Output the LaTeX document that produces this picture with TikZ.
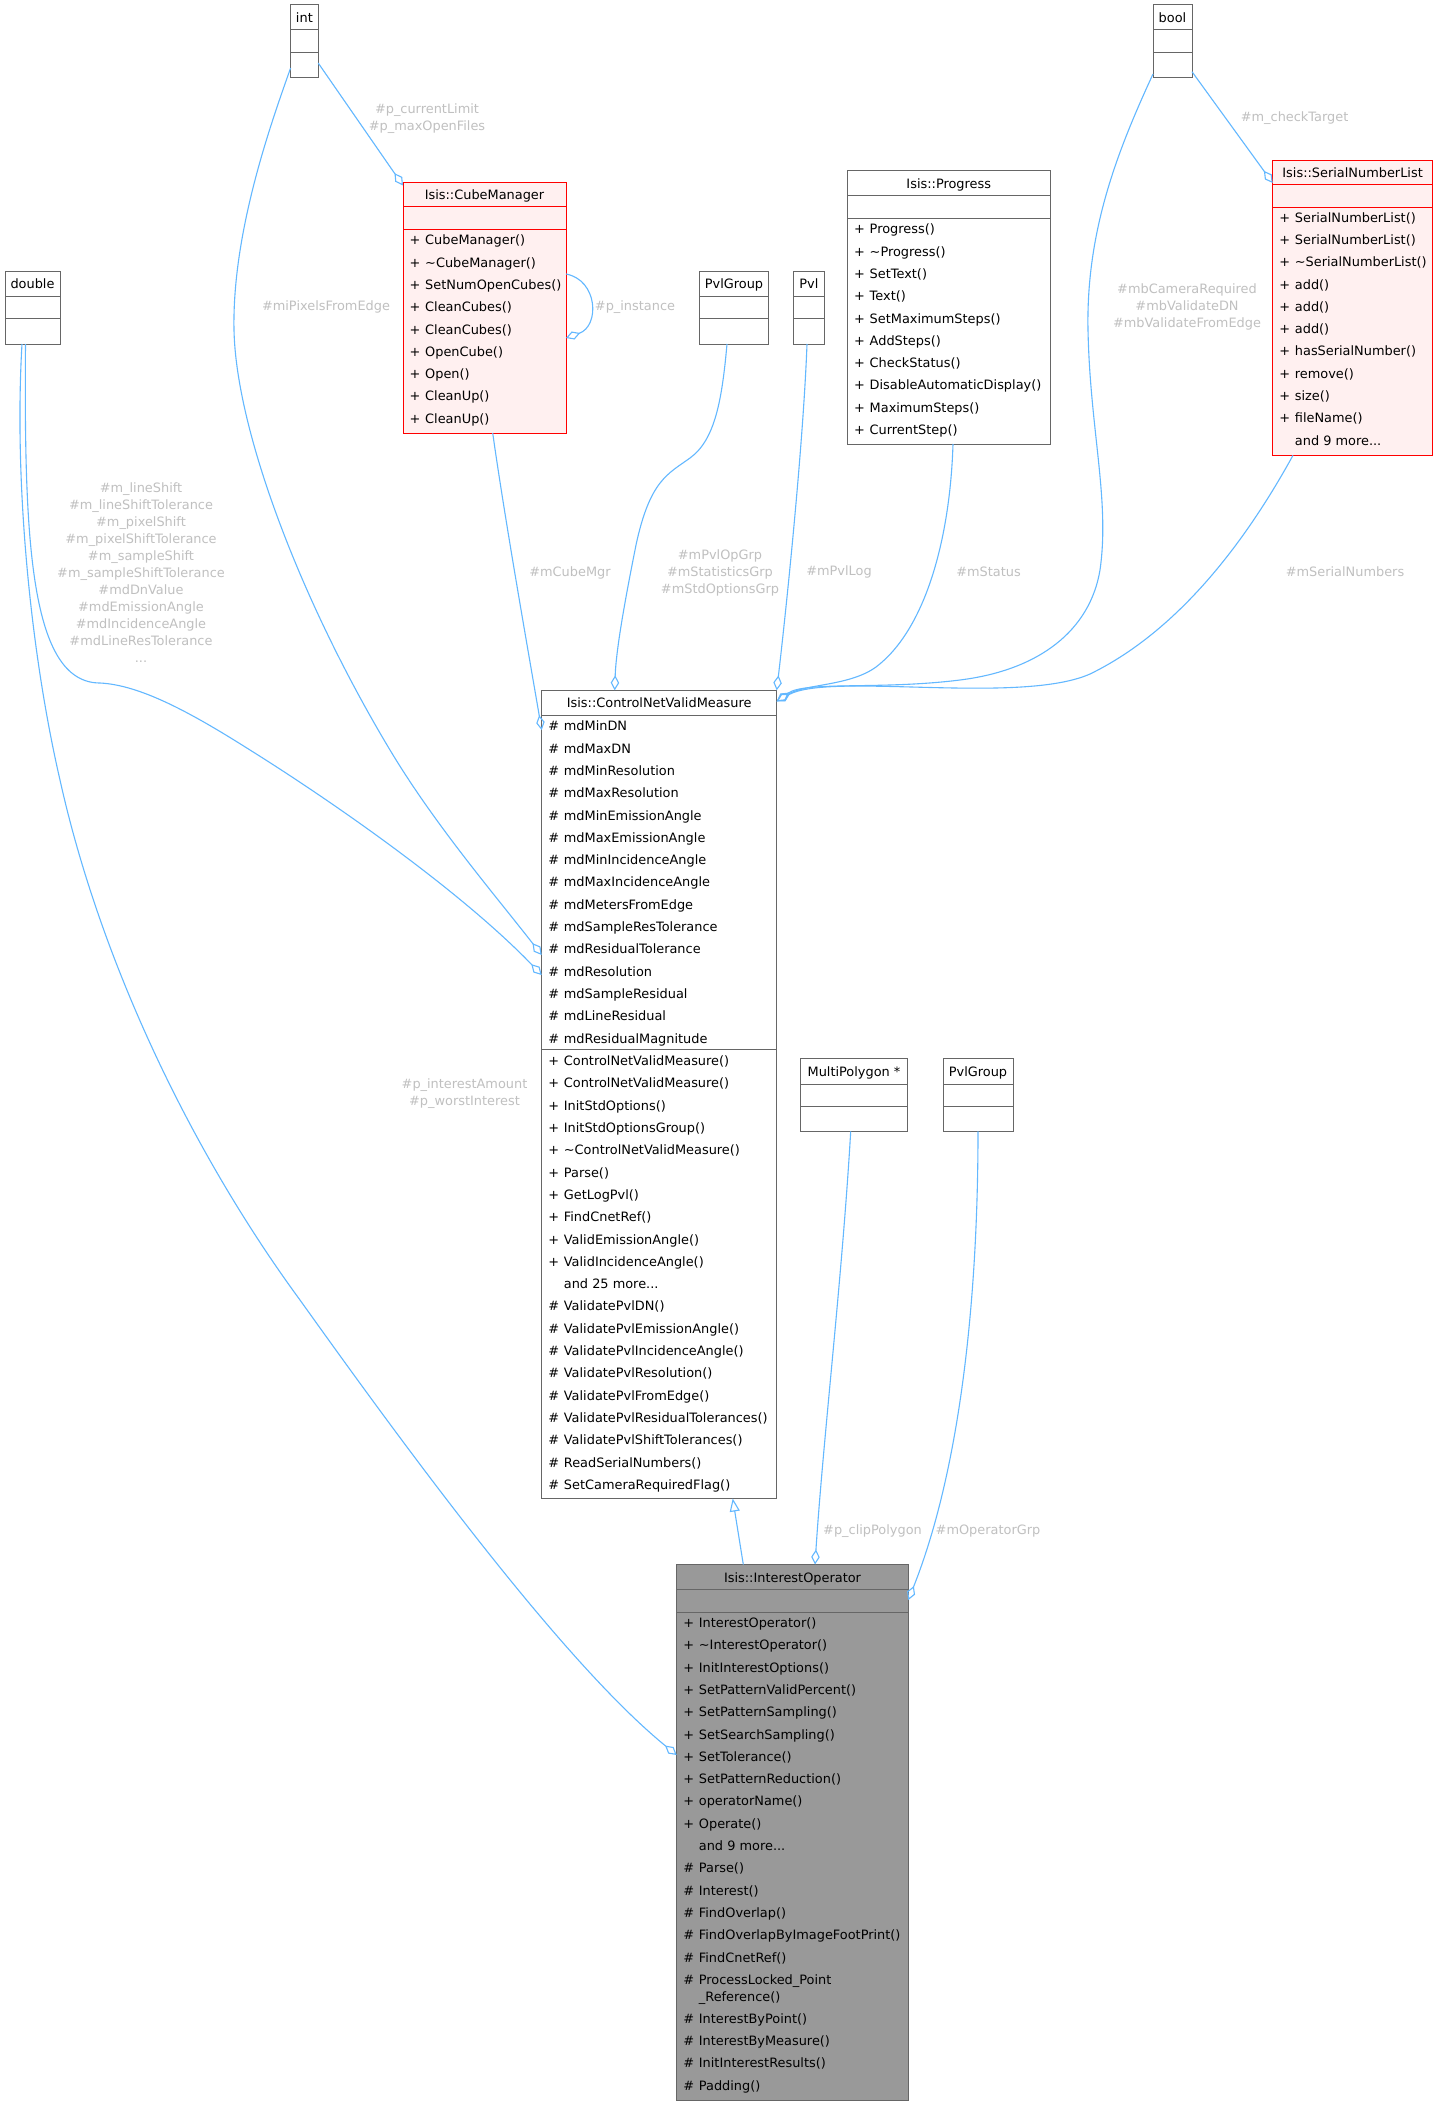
\documentclass[tikz,border=0pt]{standalone}
\usepackage{fontspec}
\setmainfont{DejaVu Sans}
\usetikzlibrary{calc,arrows.meta}
\definecolor{edgeblue}{HTML}{63B8FF}
\definecolor{boxgrey}{HTML}{666666}
\definecolor{lblgrey}{HTML}{C0C0C0}
\definecolor{redfill}{HTML}{FFF0F0}
\definecolor{redline}{HTML}{FF0000}
\definecolor{iofill}{HTML}{999999}
\newcommand\fs{\fontsize{12.9}{17}\selectfont}
\newcommand\threedots{...}
\newcommand\mems[4]{%
  \foreach \sy/\tx [count=\i from 0] in {#4}{%
    \pgfmathsetmacro\yy{#2+\i*22.3}%
    \node[mem] (#3s\i) at ($(#1.north west)+(6.5,\yy)$) {\sy};
    \node[mem] (#3m\i) at ($(#1.north west)+(22,\yy)$) {\tx};
  }}
\newcommand\hdiv[3]{\draw[line width=1pt,#3] ($(#1.north west)+(0,#2)$) -- ($(#1.north east)+(0,#2)$);}
\newcommand\ctitle[3]{\node[ttl] (#1t) at ($(#1.north)+(0,#2)$) {#3};}
\tikzset{
  cls/.style={draw=boxgrey, fill=white, line width=1pt, inner sep=0pt, outer sep=0pt, anchor=north west},
  redcls/.style={cls, draw=redline, fill=redfill},
  iocls/.style={cls, fill=iofill},
  mem/.style={anchor=west, inner sep=0pt, font=\fs, text height=11pt, text depth=1.4pt},
  ttl/.style={anchor=center, inner sep=0pt, font=\fs, text height=11pt, text depth=1.4pt},
  lbl/.style={inner sep=0pt, font=\fs, text=lblgrey, align=center},
  agg/.style={draw=edgeblue, line width=1.1pt, -{Diamond[open,length=15pt,width=8.5pt]}},
  inh/.style={draw=edgeblue, line width=1.1pt, -{Triangle[open,length=13pt,width=10pt]}}
}
\begin{document}
\begin{tikzpicture}[x=1pt,y=-1pt]
\fill[white] (0,0) rectangle (1438,2106);
\useasboundingbox (0,0) rectangle (1438,2106);

% ---------- simple type boxes ----------
\node[cls, minimum width=27.6pt, minimum height=73pt] (int) at (290.6,5) {};
\hdiv{int}{25}{boxgrey}\hdiv{int}{47.3}{boxgrey}\ctitle{int}{12.5}{int}
\node[cls, minimum width=39pt, minimum height=73pt] (bool) at (1153,5) {};
\hdiv{bool}{25}{boxgrey}\hdiv{bool}{47.3}{boxgrey}\ctitle{bool}{12.5}{bool}
\node[cls, minimum width=55pt, minimum height=73pt] (double) at (5,271) {};
\hdiv{double}{25}{boxgrey}\hdiv{double}{47.3}{boxgrey}\ctitle{double}{12.5}{double}
\node[cls, minimum width=69pt, minimum height=73pt] (pvlga) at (699.5,271) {};
\hdiv{pvlga}{25}{boxgrey}\hdiv{pvlga}{47.3}{boxgrey}\ctitle{pvlga}{12.5}{PvlGroup}
\node[cls, minimum width=31.1pt, minimum height=73pt] (pvl) at (793.3,271) {};
\hdiv{pvl}{25}{boxgrey}\hdiv{pvl}{47.3}{boxgrey}\ctitle{pvl}{12.5}{Pvl}
\node[cls, minimum width=106.6pt, minimum height=72.7pt] (mp) at (800.7,1058.7) {};
\hdiv{mp}{25.3}{boxgrey}\hdiv{mp}{47.3}{boxgrey}\ctitle{mp}{12.6}{MultiPolygon *}
\node[cls, minimum width=70pt, minimum height=72.7pt] (pvlgb) at (943,1058.7) {};
\hdiv{pvlgb}{25.3}{boxgrey}\hdiv{pvlgb}{47.3}{boxgrey}\ctitle{pvlgb}{12.6}{PvlGroup}

% ---------- Isis::CubeManager ----------
\node[redcls, minimum width=163pt, minimum height=251pt] (cm) at (403,182) {};
\hdiv{cm}{24.7}{redline}\hdiv{cm}{47}{redline}\ctitle{cm}{12.8}{Isis::CubeManager}
\mems{cm}{58}{cm}{+/CubeManager(), +/\textasciitilde CubeManager(), +/SetNumOpenCubes(), +/CleanCubes(), +/CleanCubes(), +/OpenCube(), +/Open(), +/CleanUp(), +/CleanUp()}

% ---------- Isis::Progress ----------
\node[cls, minimum width=202.5pt, minimum height=273.3pt] (prog) at (847.5,170.7) {};
\hdiv{prog}{24.8}{boxgrey}\hdiv{prog}{47.3}{boxgrey}\ctitle{prog}{13.4}{Isis::Progress}
\mems{prog}{58.3}{pg}{+/Progress(), +/\textasciitilde Progress(), +/SetText(), +/Text(), +/SetMaximumSteps(), +/AddSteps(), +/CheckStatus(), +/DisableAutomaticDisplay(), +/MaximumSteps(), +/CurrentStep()}

% ---------- Isis::SerialNumberList ----------
\node[redcls, minimum width=159.8pt, minimum height=295.3pt] (snl) at (1272.7,160) {};
\hdiv{snl}{24.3}{redline}\hdiv{snl}{47}{redline}\ctitle{snl}{12.3}{Isis::SerialNumberList}
\mems{snl}{57.3}{sn}{+/SerialNumberList(), +/SerialNumberList(), +/\textasciitilde SerialNumberList(), +/add(), +/add(), +/add(), +/hasSerialNumber(), +/remove(), +/size(), +/fileName(), {}/and 9 more\threedots}

% ---------- Isis::ControlNetValidMeasure ----------
\node[cls, minimum width=235pt, minimum height=808.2pt] (cnvm) at (541.7,690.3) {};
\hdiv{cnvm}{25.3}{boxgrey}\hdiv{cnvm}{358.9}{boxgrey}\ctitle{cnvm}{12.7}{Isis::ControlNetValidMeasure}
\mems{cnvm}{35.7}{cva}{\#/mdMinDN, \#/mdMaxDN, \#/mdMinResolution, \#/mdMaxResolution, \#/mdMinEmissionAngle, \#/mdMaxEmissionAngle, \#/mdMinIncidenceAngle, \#/mdMaxIncidenceAngle, \#/mdMetersFromEdge, \#/mdSampleResTolerance, \#/mdResidualTolerance, \#/mdResolution, \#/mdSampleResidual, \#/mdLineResidual, \#/mdResidualMagnitude}
\mems{cnvm}{370.5}{cvm}{+/ControlNetValidMeasure(), +/ControlNetValidMeasure(), +/InitStdOptions(), +/InitStdOptionsGroup(), +/\textasciitilde ControlNetValidMeasure(), +/Parse(), +/GetLogPvl(), +/FindCnetRef(), +/ValidEmissionAngle(), +/ValidIncidenceAngle(), {}/and 25 more\threedots, \#/ValidatePvlDN(), \#/ValidatePvlEmissionAngle(), \#/ValidatePvlIncidenceAngle(), \#/ValidatePvlResolution(), \#/ValidatePvlFromEdge(), \#/ValidatePvlResidualTolerances(), \#/ValidatePvlShiftTolerances(), \#/ReadSerialNumbers(), \#/SetCameraRequiredFlag()}

% ---------- Isis::InterestOperator ----------
\node[iocls, minimum width=231.6pt, minimum height=536.2pt] (io) at (676.7,1564.5) {};
\hdiv{io}{25.2}{boxgrey}\hdiv{io}{47.5}{boxgrey}\ctitle{io}{13.2}{Isis::InterestOperator}
\mems{io}{58.2}{ioa}{+/InterestOperator(), +/\textasciitilde InterestOperator(), +/InitInterestOptions(), +/SetPatternValidPercent(), +/SetPatternSampling(), +/SetSearchSampling(), +/SetTolerance(), +/SetPatternReduction(), +/operatorName(), +/Operate(), {}/and 9 more\threedots, \#/Parse(), \#/Interest(), \#/FindOverlap(), \#/FindOverlapByImageFootPrint(), \#/FindCnetRef(), \#/ProcessLocked\_Point}
\node[mem] (iorefline) at ($(io.north west)+(22,431.7)$) {\_Reference()};
\mems{io}{454}{iob}{\#/InterestByPoint(), \#/InterestByMeasure(), \#/InitInterestResults(), \#/Padding()}

% ---------- connectors ----------
\draw[agg] ($(int.north east)+(0,58)$) -- ($(cm.north west)+(0,3.5)$);
\draw[agg] ($(int.north west)+(0,63)$) .. controls (273,118) and (232,230) .. (234,330) .. controls (236,430) and (300,600) .. (390,750) .. controls (435,825) and (495,895) .. ($(cnvm.north west)+(0,264.7)$);
\draw[agg] ($(double.south west)+(20.5,0)$) .. controls (24,540) and (30,683) .. (100,683) .. controls (140,685) and (190,712) .. (250,750) .. controls (330,800) and (460,890) .. ($(cnvm.north west)+(0,284.7)$);
\draw[agg] ($(double.south west)+(17,0)$) .. controls (14,480) and (30,650) .. (60,780) .. controls (100,960) and (190,1150) .. (300,1300) .. controls (400,1440) and (560,1660) .. ($(io.north west)+(0,190.5)$);
\draw[agg] ($(cm.north east)+(0,92)$) .. controls (598,280) and (600,326) .. ($(cm.north east)+(0,156)$);
\draw[agg] ($(cm.south west)+(89.7,0)$) .. controls (505,520) and (528,650) .. ($(cnvm.north west)+(0,39.7)$);
\draw[agg] ($(pvlga.south west)+(27.5,0)$) .. controls (722,400) and (715,440) .. (690,458) .. controls (668,474) and (650,480) .. (636,545) .. controls (625,600) and (616,650) .. ($(cnvm.north west)+(73,0)$);
\draw[agg] ($(pvl.south west)+(13.7,0)$) .. controls (803,450) and (785,620) .. (cnvm.north east);
\draw[agg] ($(prog.south west)+(105.5,0)$) .. controls (950,540) and (925,630) .. (876,667) .. controls (850,686) and (805,684) .. ($(cnvm.north east)+(0,11)$);
\draw[agg] ($(bool.north west)+(0,69)$) .. controls (1118,150) and (1086,230) .. (1088,330) .. controls (1090,430) and (1110,500) .. (1100,570) .. controls (1090,630) and (1040,670) .. (960,680) .. controls (880,690) and (805,681) .. ($(cnvm.north east)+(0,11)$);
\draw[agg] ($(snl.south west)+(20.3,0)$) .. controls (1230,570) and (1160,640) .. (1090,674) .. controls (1020,705) and (830,672) .. ($(cnvm.north east)+(0,11)$);
\draw[agg] ($(bool.north east)+(0,66.7)$) -- ($(snl.north west)+(0,23)$);
\draw[inh] ($(io.north west)+(66.6,0)$) -- ($(cnvm.south west)+(191,0)$);
\draw[agg] ($(mp.south west)+(50,0)$) .. controls (842,1280) and (823,1440) .. ($(io.north west)+(138.3,0)$);
\draw[agg] ($(pvlgb.south west)+(35,0)$) .. controls (978,1300) and (960,1470) .. ($(io.north east)+(0,35.5)$);

% ---------- connector labels ----------
\node[lbl] (lbcur) at (427,118.5) {\#p\_currentLimit\\\#p\_maxOpenFiles};
\node[lbl] (lbmi) at (326,306.7) {\#miPixelsFromEdge};
\node[lbl] (lbinst) at (635,307) {\#p\_instance};
\node[lbl] (lbdbl) at (141,572.5) {\#m\_lineShift\\\#m\_lineShiftTolerance\\\#m\_pixelShift\\\#m\_pixelShiftTolerance\\\#m\_sampleShift\\\#m\_sampleShiftTolerance\\\#mdDnValue\\\#mdEmissionAngle\\\#mdIncidenceAngle\\\#mdLineResTolerance\\...};
\node[lbl] (lbcube) at (570,572.7) {\#mCubeMgr};
\node[lbl] (lbpg) at (720,572.7) {\#mPvlOpGrp\\\#mStatisticsGrp\\\#mStdOptionsGrp};
\node[lbl] (lbpvl) at (839,572) {\#mPvlLog};
\node[lbl] (lbstat) at (988.6,572) {\#mStatus};
\node[lbl] (lbbool) at (1187,307) {\#mbCameraRequired\\\#mbValidateDN\\\#mbValidateFromEdge};
\node[lbl] (lbsn) at (1345,572) {\#mSerialNumbers};
\node[lbl] (lbct) at (1294.6,118.3) {\#m\_checkTarget};
\node[lbl] (lbint) at (464.5,1093.5) {\#p\_interestAmount\\\#p\_worstInterest};
\node[lbl] (lbclip) at (872.5,1531.3) {\#p\_clipPolygon};
\node[lbl] (lbop) at (988,1531.3) {\#mOperatorGrp};
\end{tikzpicture}
\end{document}
